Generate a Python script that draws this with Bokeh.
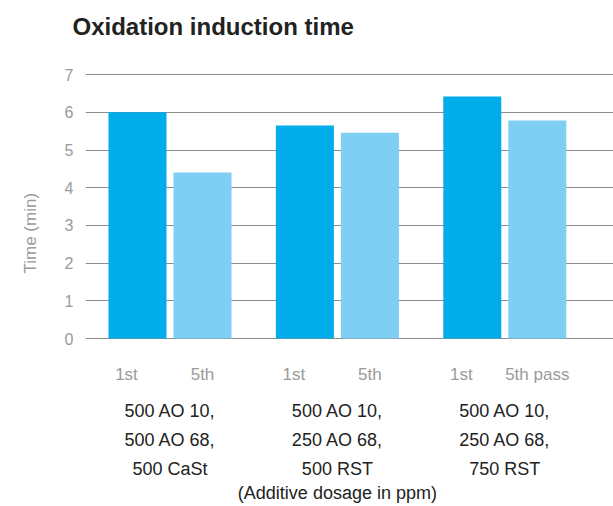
from bokeh.plotting import figure
from bokeh.models import ColumnDataSource, Range1d, FixedTicker, Title
from bokeh.core.properties import value
from bokeh.embed import file_html
from bokeh.resources import INLINE

title_text = "Oxidation induction time"
y_label = "Time (min)"
x_label = "(Additive dosage in ppm)"
groups = ["500 AO 10,\n500 AO 68,\n500 CaSt",
          "500 AO 10,\n250 AO 68,\n500 RST",
          "500 AO 10,\n250 AO 68,\n750 RST"]
first_pass_labels = ["1st", "1st", "1st"]
fifth_pass_labels = ["5th", "5th", "5th pass"]
first_pass = [6.0, 5.65, 6.42]
fifth_pass = [4.4, 5.46, 5.78]
y_ticks = [0, 1, 2, 3, 4, 5, 6, 7]

FONT = "Liberation Sans"
DARK = "#00adea"
LIGHT = "#7fcef3"
GRAY = "#9a9a9a"
INK = "#222222"

W, H = 613, 506
LEFT, TOP = 85, 48
px_unit = 37.7          # pixels per minute
grp_px = 167.4          # pixels per group
zero_px = 338           # position of the zero line from the top
y_end = (zero_px - TOP) / px_unit
y_start = -(H - zero_px) / px_unit
x_start = (LEFT - 169.5) / grp_px
x_end = x_start + (W - LEFT) / grp_px

gx = list(range(len(groups)))
dodge = 32.5 / grp_px
bw = 58 / grp_px

src = ColumnDataSource(dict(
    g=gx,
    x1=[g - dodge for g in gx],
    x5=[g + dodge for g in gx],
    v1=first_pass, v5=fifth_pass,
    l1=first_pass_labels, l5=fifth_pass_labels,
    grp=groups,
))

p = figure(width=W, height=H, output_backend="svg", toolbar_location=None,
           x_range=Range1d(x_start, x_end), y_range=Range1d(y_start, y_end),
           x_axis_location=None, min_border_left=LEFT, min_border_top=TOP,
           min_border_right=0, min_border_bottom=0, title=title_text)
p.outline_line_color = None
p.xgrid.visible = False
p.ygrid.grid_line_color = "#8c8c8c"
p.ygrid.grid_line_width = 1
p.yaxis.ticker = FixedTicker(ticks=y_ticks)
p.yaxis.axis_line_color = None
p.yaxis.major_tick_line_color = None
p.yaxis.minor_tick_line_color = None
p.yaxis.major_tick_out = 0
p.yaxis.major_tick_in = 0
p.yaxis.major_label_standoff = 12
p.yaxis.major_label_text_font = FONT
p.yaxis.major_label_text_font_size = "16px"
p.yaxis.major_label_text_color = GRAY

p.title.align = "left"
p.title.offset = -13
p.title.standoff = 18
p.title.text_font = FONT
p.title.text_font_size = "24px"
p.title.text_font_style = "bold"
p.title.text_color = INK

ylab = Title(text=y_label, align="left", offset=233, standoff=40,
             vertical_align="top",
             text_font=FONT, text_font_size="17px", text_font_style="normal",
             text_color=GRAY)
p.add_layout(ylab, "left")

p.vbar(x="x1", top="v1", bottom=0, width=bw, source=src, fill_color=DARK, line_color=None)
p.vbar(x="x5", top="v5", bottom=0, width=bw, source=src, fill_color=LIGHT, line_color=None)

p.text(x="x1", y=-36 / px_unit, text="l1", source=src, x_offset=-11,
       text_align="center", text_baseline="middle", text_font=value(FONT),
       text_font_size="17px", text_color=GRAY)
p.text(x="x5", y=-36 / px_unit, text="l5", source=src,
       text_align="center", text_baseline="middle", text_font=value(FONT),
       text_font_size="17px", text_color=GRAY)
p.text(x="g", y=-101 / px_unit, text="grp", source=src,
       text_align="center", text_baseline="middle", text_line_height=1.45,
       text_font=value(FONT), text_font_size="18px", text_color=INK)
p.text(x=[sum(gx) / len(gx)], y=[-154 / px_unit], text=[x_label],
       text_align="center", text_baseline="alphabetic",
       text_font=value(FONT), text_font_size="18px", text_color=INK)

open("out.html", "w").write(file_html(p, INLINE))
